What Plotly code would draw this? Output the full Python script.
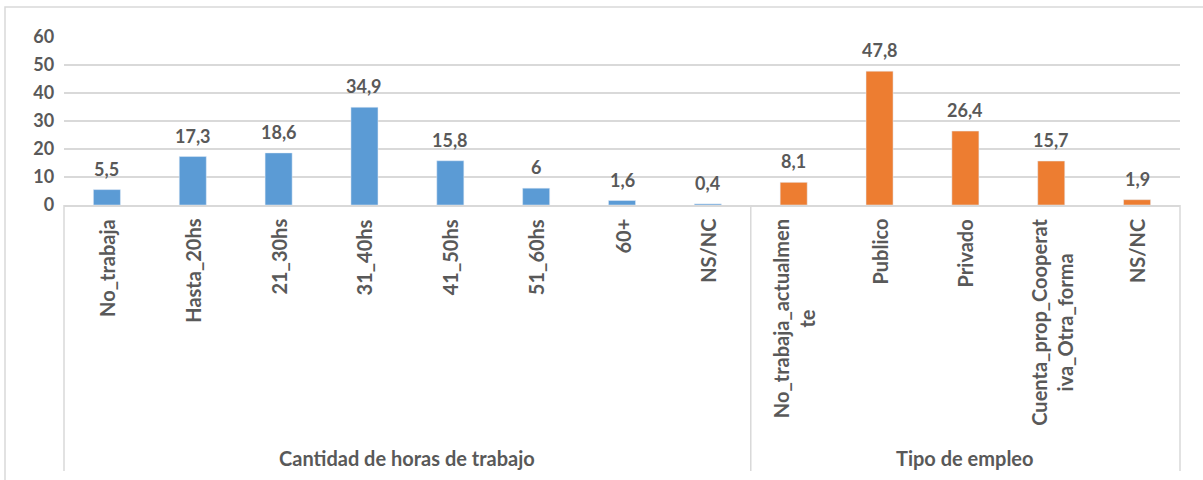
import plotly.graph_objects as go

# datos
horas_cat = ["No_trabaja", "Hasta_20hs", "21_30hs", "31_40hs", "41_50hs", "51_60hs", "60+", "NS/NC"]
horas_val = [5.5, 17.3, 18.6, 34.9, 15.8, 6, 1.6, 0.4]
empleo_cat = ["No_trabaja_actualmente", "Publico", "Privado", "Cuenta_prop_Cooperativa_Otra_forma", "NS/NC "]
empleo_val = [8.1, 47.8, 26.4, 15.7, 1.9]
empleo_tick = ["No_trabaja_actualmen<br>te", "Publico", "Privado", "Cuenta_prop_Cooperat<br>iva_Otra_forma", "NS/NC"]
grupos = ["Cantidad de horas de trabajo", "Tipo de empleo"]

gris = "#595959"
linea = "#D9D9D9"
fuente_num = dict(family="Lato", size=18, color=gris, weight="bold")
fuente_txt = dict(family="Lato", size=20, color=gris, weight="bold")

def etiqueta(v):
    return str(v).replace(".", ",")

fig = go.Figure()
fig.add_trace(go.Bar(x=horas_cat, y=horas_val, marker_color="#5B9BD5", width=0.315))
fig.add_trace(go.Bar(x=empleo_cat, y=empleo_val, marker_color="#ED7D31", width=0.315))

todas_cat = horas_cat + empleo_cat
todos_val = horas_val + empleo_val
todos_tick = horas_cat + empleo_tick

# etiquetas de datos
for c, v in zip(todas_cat, todos_val):
    fig.add_annotation(x=c, y=v, text=etiqueta(v), showarrow=False, yanchor="bottom",
                       yshift=8, font=fuente_num)

# etiquetas de categoria (rotadas)
for c, t in zip(todas_cat, todos_tick):
    fig.add_annotation(x=c, y=0, text=t, showarrow=False, textangle=-90, align="center",
                       yanchor="top", yshift=-12, font=fuente_txt)

# caja de categorias
n = len(todas_cat)
corte = len(horas_cat) / n
ybot = (205 - 471) / 168
for xp in [0, corte, 1]:
    fig.add_shape(type="line", xref="paper", yref="paper", x0=xp, x1=xp, y0=0, y1=ybot,
                  line=dict(color=linea, width=1.5))
for xg, g in zip([corte / 2, (corte + 1) / 2], grupos):
    fig.add_annotation(xref="paper", yref="paper", x=xg, y=(205 - 458) / 168, text=g,
                       xanchor="center", yanchor="middle", showarrow=False, font=fuente_txt)

# borde exterior
fig.add_shape(type="rect", xref="paper", yref="paper", x0=(5 - 64) / 1116, x1=(1215 - 64) / 1116,
              y0=(205 - 495) / 168, y1=(205 - 7) / 168, line=dict(color=linea, width=1.5))

fig.update_layout(
    width=1203, height=480,
    margin=dict(l=64, r=23, t=37, b=275),
    plot_bgcolor="white", paper_bgcolor="white",
    barmode="overlay", showlegend=False,
    font=fuente_num,
)
fig.update_xaxes(type="category", categoryarray=todas_cat, showticklabels=False,
                 showline=True, linecolor=linea, linewidth=1.5, ticks="", showgrid=False)
fig.update_yaxes(range=[0, 60], dtick=10, showgrid=True, gridcolor=linea, gridwidth=1.5,
                 zeroline=False, showline=False, tickfont=fuente_num, ticksuffix="  ",
                 automargin=False)

fig.write_html("out.html", config={"displayModeBar": False},
               post_script="document.body.style.margin='0';")
